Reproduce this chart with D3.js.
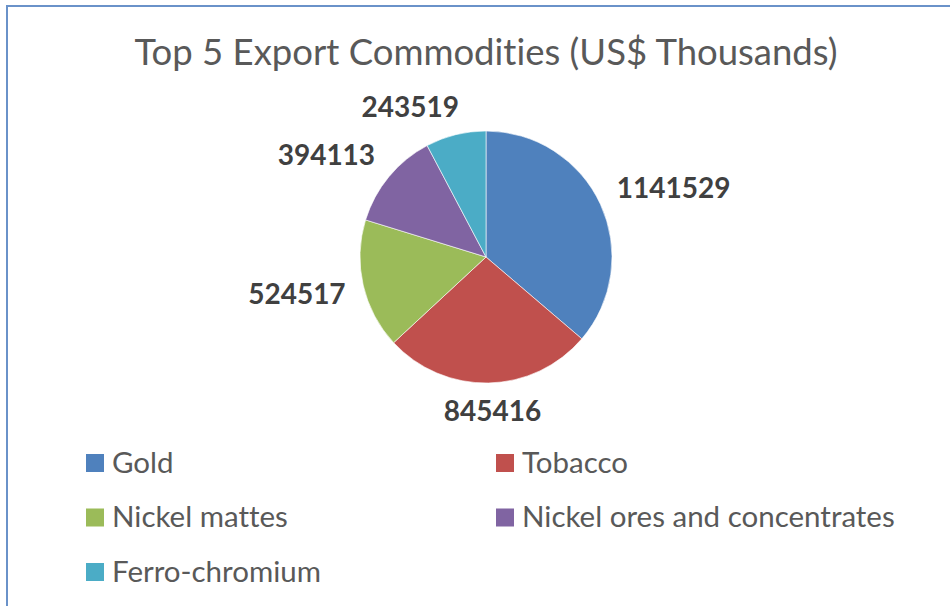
<!DOCTYPE html>
<html lang="en">

<head>
    <meta charset="UTF-8">
    <script src="https://cdnjs.cloudflare.com/ajax/libs/d3/7.8.5/d3.min.js"></script>
    <title>Top 5 Export Commodities (US$ Thousands)</title>
    <style>
        body { margin: 0; background: #fff; }
        svg { display: block; font-family: Lato, "Open Sans", sans-serif; font-variant-ligatures: none; }
    </style>
</head>

<body>
    <svg width="950" height="606"></svg>
    <script>
        var commodities = ["Gold", "Tobacco", "Nickel mattes", "Nickel ores and concentrates", "Ferro-chromium"];
        var exportValues = [1141529, 845416, 524517, 394113, 243519];
        var sliceColors = ["#4f81bd", "#c0504d", "#9bbb59", "#8064a2", "#4bacc6"];

        var svg = d3.select("svg");

        // chart frame
        svg.append("rect")
            .attr("x", 7).attr("y", 6)
            .attr("width", 960).attr("height", 620)
            .attr("fill", "none")
            .attr("stroke", "#6a92c9")
            .attr("stroke-width", 2);

        svg.append("text")
            .attr("x", 486).attr("y", 65)
            .attr("text-anchor", "middle")
            .style("font-size", "36.5px")
            .style("fill", "#595959")
            .text("Top 5 Export Commodities (US$ Thousands)");

        var data = commodities.map((c, i) => ({ name: c, value: exportValues[i] }));
        var color = d3.scaleOrdinal().domain(commodities).range(sliceColors);

        var cx = 486, cy = 257, radius = 126;

        var pie = d3.pie().sort(null).value(d => d.value);
        var arc = d3.arc().innerRadius(0).outerRadius(radius);

        var g = svg.append("g").attr("transform", "translate(" + cx + "," + cy + ")");
        var arcs = pie(data);

        g.selectAll("path")
            .data(arcs)
            .enter()
            .append("path")
            .attr("d", arc)
            .attr("fill", d => color(d.data.name))
            .attr("stroke", "#ffffff")
            .attr("stroke-width", 0.6);

        // labels outside end, box pushed away from the point along the mid angle
        var labelR = radius + 18;
        g.selectAll("text.val")
            .data(arcs)
            .enter()
            .append("text")
            .attr("class", "val")
            .style("font-size", "28px")
            .style("font-weight", "bold")
            .style("fill", "#404040")
            .attr("text-anchor", "middle")
            .text(d => d.data.value)
            .each(function (d) {
                var a = (d.startAngle + d.endAngle) / 2;
                var sx = Math.sin(a), sy = -Math.cos(a);
                var px = sx * labelR, py = sy * labelR;
                var w = this.getBBox().width, h = 20;
                var kx = Math.max(-1, Math.min(1, 3.5 * sx));
                var ky = Math.max(-1, Math.min(1, 2 * sy));
                d3.select(this)
                    .attr("x", px + kx * w / 2)
                    .attr("y", py + ky * h / 2 + h / 2);
            });

        // legend
        var legend = svg.append("g");
        var item = legend.selectAll("g")
            .data(commodities)
            .enter()
            .append("g")
            .attr("transform", (d, i) => "translate(" + (i % 2 ? 496 : 86) + "," + (454 + Math.floor(i / 2) * 54.5) + ")");

        item.append("rect")
            .attr("width", 18).attr("height", 18)
            .attr("fill", d => color(d));

        item.append("text")
            .attr("x", 26).attr("y", 18.5)
            .style("font-size", "29.5px")
            .style("fill", "#595959")
            .text(d => d);
    </script>
</body>

</html>
